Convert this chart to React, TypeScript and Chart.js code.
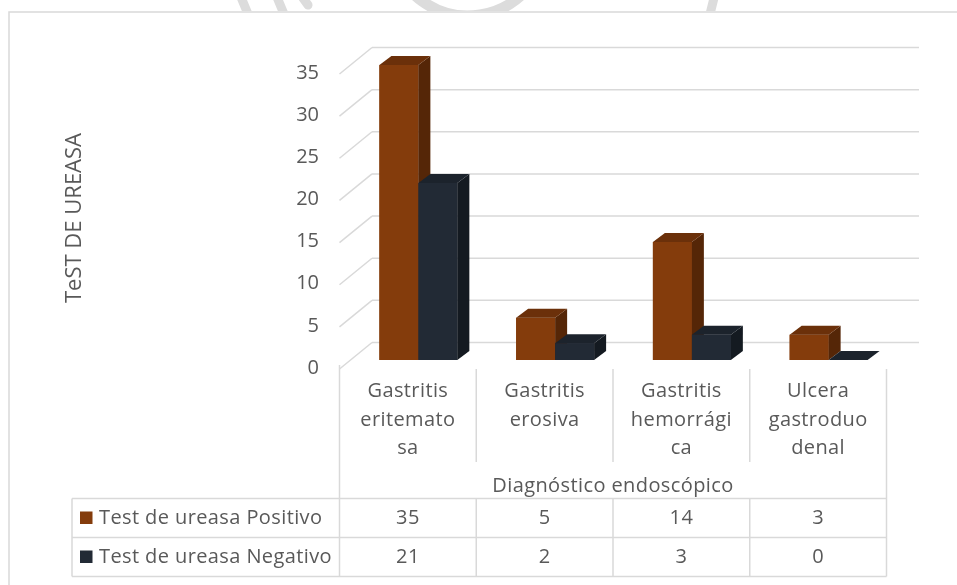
import React, { useEffect, useRef } from "react";
import { Chart, registerables } from "chart.js";

Chart.register(...registerables);

// Categories (multi-line, as wrapped under each column)
const categories: string[][] = [
  ["Gastritis", "eritemato", "sa"],
  ["Gastritis", "erosiva"],
  ["Gastritis", "hemorrági", "ca"],
  ["Ulcera", "gastroduo", "denal"],
];
const positivos = [35, 5, 14, 3];
const negativos = [21, 2, 3, 0];
const seriesNames = ["Test de ureasa Positivo", "Test de ureasa Negativo"];
const yMin = 0;
const yMax = 35;
const yStep = 5;
const yTitle = "TeST DE UREASA";
const xTitle = "Diagnóstico endoscópico";

const FONT = '"Open Sans", sans-serif';
const TEXT = "#595959";
const LINE = "#D9D9D9";

// 3D projection offsets relative to the bar front faces
const FRONT = { dx: -10.5, dy: 9 }; // front edge of floor / side wall
const BACK = { dx: 22, dy: -17.5 }; // back wall
const DEPTH = { dx: 12, dy: -9 }; // depth of each column

const shades = [
  { front: "#843C0C", top: "#6B300A", side: "#552607" },
  { front: "#222A35", top: "#1C232C", side: "#141A21" },
];

function poly(ctx: CanvasRenderingContext2D, pts: number[][], fill: string) {
  ctx.beginPath();
  ctx.moveTo(pts[0][0], pts[0][1]);
  for (let i = 1; i < pts.length; i++) ctx.lineTo(pts[i][0], pts[i][1]);
  ctx.closePath();
  ctx.fillStyle = fill;
  ctx.fill();
}

function line(ctx: CanvasRenderingContext2D, x1: number, y1: number, x2: number, y2: number) {
  ctx.beginPath();
  ctx.moveTo(x1, y1);
  ctx.lineTo(x2, y2);
  ctx.stroke();
}

// faint page emblem peeking out above the chart frame
function drawEmblem(ctx: CanvasRenderingContext2D) {
  ctx.save();
  ctx.beginPath();
  ctx.rect(0, 0, 957, 11);
  ctx.clip();
  ctx.strokeStyle = "#DCDCDC";
  ctx.lineCap = "round";
  ctx.lineWidth = 9;
  line(ctx, 238, -10, 248, 14);
  line(ctx, 274, -10, 284, 14);
  line(ctx, 300, -6, 308, 5);
  line(ctx, 716, -10, 710, 14);
  ctx.lineWidth = 11;
  ctx.beginPath();
  ctx.arc(468, -62, 78, 0.2 * Math.PI, 0.95 * Math.PI);
  ctx.stroke();
  ctx.restore();
}

const wallsPlugin = {
  id: "walls3d",
  beforeDatasetsDraw(chart: any) {
    const { ctx, chartArea, scales } = chart;
    const y = scales.y;
    const L = chartArea.left;
    const R = chartArea.right;
    ctx.save();
    ctx.strokeStyle = LINE;
    ctx.lineWidth = 1.5;
    for (const t of y.ticks) {
      const py = y.getPixelForValue(t.value);
      line(ctx, L + BACK.dx, py + BACK.dy, R + BACK.dx, py + BACK.dy);
      line(ctx, L + FRONT.dx, py + FRONT.dy, L + BACK.dx, py + BACK.dy);
    }
    ctx.restore();
  },
  afterDatasetsDraw(chart: any) {
    const { ctx } = chart;
    const metas = [chart.getDatasetMeta(0), chart.getDatasetMeta(1)];
    ctx.save();
    for (let c = 0; c < categories.length; c++) {
      metas.forEach((meta: any, d: number) => {
        const el = meta.data[c];
        const { x, y, base, width } = el.getProps(["x", "y", "base", "width"], true);
        const l = x - width / 2;
        const r = x + width / 2;
        ctx.fillStyle = shades[d].front;
        ctx.fillRect(l, y, width, base - y);
        poly(ctx, [[r, y], [r + DEPTH.dx, y + DEPTH.dy], [r + DEPTH.dx, base + DEPTH.dy], [r, base]], shades[d].side);
        poly(ctx, [[l, y], [l + DEPTH.dx, y + DEPTH.dy], [r + DEPTH.dx, y + DEPTH.dy], [r, y]], shades[d].top);
      });
    }
    ctx.restore();
  },
  afterDraw(chart: any) {
    const { ctx, chartArea, scales } = chart;
    const xs = scales.x;
    const ys = scales.y;
    const n = categories.length;
    const catW = (chartArea.right - chartArea.left) / n;
    const y0 = ys.getPixelForValue(0) + FRONT.dy;
    const bounds: number[] = [];
    for (let k = 0; k <= n; k++) bounds.push(chartArea.left + k * catW + FRONT.dx);

    const tableTop = 498.5;
    const rowH = 39;
    const tableBottom = tableTop + rowH * 2;
    const tableLeft = 72;
    const sepBottom = 462;

    drawEmblem(ctx);

    ctx.save();
    // outer frame
    ctx.strokeStyle = LINE;
    ctx.lineWidth = 1.5;
    ctx.strokeRect(9, 12, 1000, 700);

    // category separators and table grid
    line(ctx, bounds[0], y0 - 4, bounds[0], tableBottom);
    line(ctx, bounds[n], y0, bounds[n], tableBottom);
    for (let k = 1; k < n; k++) {
      line(ctx, bounds[k], y0, bounds[k], sepBottom);
      line(ctx, bounds[k], tableTop, bounds[k], tableBottom);
    }
    line(ctx, tableLeft, tableTop, bounds[n], tableTop);
    line(ctx, tableLeft, tableTop + rowH, bounds[n], tableTop + rowH);
    line(ctx, tableLeft, tableBottom, bounds[n], tableBottom);
    line(ctx, tableLeft, tableTop, tableLeft, tableBottom);

    ctx.fillStyle = TEXT;
    ctx.font = `20px ${FONT}`;
    (ctx as any).letterSpacing = "0.4px";
    ctx.textAlign = "center";
    ctx.textBaseline = "middle";

    // category labels
    categories.forEach((lines, i) => {
      const cx = xs.getPixelForValue(i) + FRONT.dx;
      lines.forEach((s, j) => ctx.fillText(s, cx, 391.5 + j * 28.3));
    });
    // axis title under the categories
    ctx.fillText(xTitle, (bounds[0] + bounds[n]) / 2, 486);

    // data table
    const rows = [positivos, negativos];
    rows.forEach((vals, r) => {
      const cy = tableTop + rowH * r + rowH / 2;
      vals.forEach((v, i) => {
        const cx = xs.getPixelForValue(i) + FRONT.dx;
        ctx.fillText(String(v), cx, cy);
      });
      ctx.fillStyle = shades[r].front;
      ctx.fillRect(80, cy - 6.5, 12.5, 12.5);
      ctx.fillStyle = TEXT;
      ctx.textAlign = "left";
      ctx.fillText(seriesNames[r], 99, cy);
      ctx.textAlign = "center";
    });

    // vertical axis title
    ctx.save();
    ctx.translate(75, 218);
    ctx.rotate(-Math.PI / 2);
    ctx.font = `22px ${FONT}`;
    (ctx as any).letterSpacing = "0px";
    ctx.fillText(yTitle, 0, 0);
    ctx.restore();

    ctx.restore();
  },
};

export default function App() {
  const ref = useRef<HTMLCanvasElement>(null);

  useEffect(() => {
    let chart: Chart | null = null;
    let cancelled = false;
    const build = () => {
      if (cancelled || !ref.current) return;
      chart = new Chart(ref.current, {
        type: "bar",
        data: {
          labels: categories,
          datasets: [
            { label: seriesNames[0], data: positivos, backgroundColor: shades[0].front, borderWidth: 0 },
            { label: seriesNames[1], data: negativos, backgroundColor: shades[1].front, borderWidth: 0 },
          ],
        },
        options: {
          responsive: false,
          animation: false,
          devicePixelRatio: 1,
          layout: { padding: { left: 280, right: 60, top: 65, bottom: 225 } },
          datasets: { bar: { categoryPercentage: 0.57, barPercentage: 1 } },
          plugins: { legend: { display: false }, tooltip: { enabled: false } },
          scales: {
            x: { display: false },
            y: {
              min: yMin,
              max: yMax,
              afterFit: (scale: any) => {
                scale.width = 70;
              },
              grid: { display: false, drawTicks: false },
              border: { display: false },
              ticks: {
                stepSize: yStep,
                padding: 31,
                labelOffset: 8,
                color: TEXT,
                font: { family: FONT, size: 20 },
              },
            },
          },
        },
        plugins: [wallsPlugin],
      });
    };
    const fonts = (document as any).fonts;
    if (fonts && fonts.load) {
      Promise.all([fonts.load(`20px ${FONT}`), fonts.load(`22px ${FONT}`)]).then(build, build);
    } else build();
    return () => {
      cancelled = true;
      if (chart) chart.destroy();
    };
  }, []);

  return (
    <div style={{ position: "absolute", left: 0, top: 0, width: 957, height: 585, background: "#fff" }}>
      <canvas ref={ref} width={957} height={585} style={{ display: "block" }} />
    </div>
  );
}
